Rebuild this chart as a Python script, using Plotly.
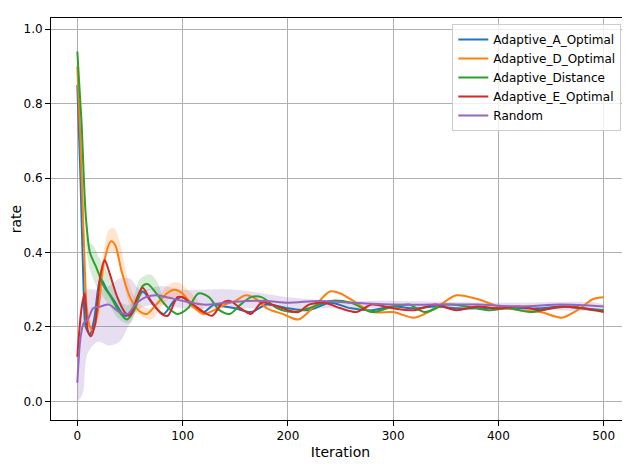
import plotly.graph_objects as go

a_x = [0,3,6,8,12,16,22,28,35,45,52,62,72,82,92,100,110,120,130,140,150,165,180,200,220,240,260,280,300,320,340,360,380,400,420,440,460,480,500]
a_y = [0.85,0.6,0.3,0.2,0.18,0.22,0.33,0.3,0.27,0.23,0.24,0.295,0.26,0.235,0.27,0.28,0.255,0.24,0.26,0.255,0.25,0.24,0.26,0.25,0.245,0.265,0.25,0.245,0.255,0.25,0.255,0.25,0.25,0.25,0.25,0.25,0.255,0.25,0.245]
d_x = [0,3,6,9,12,15,20,25,32,36,42,50,58,66,75,85,92,100,110,120,130,140,150,160,170,180,195,210,225,240,250,265,280,300,320,340,360,380,400,420,440,460,475,490,500]
d_y = [0.9,0.7,0.45,0.25,0.2,0.19,0.25,0.37,0.43,0.42,0.35,0.28,0.245,0.235,0.26,0.29,0.3,0.29,0.255,0.235,0.245,0.26,0.27,0.285,0.275,0.25,0.235,0.22,0.255,0.295,0.29,0.265,0.24,0.24,0.225,0.25,0.285,0.275,0.255,0.245,0.24,0.225,0.245,0.275,0.28]
g_x = [0,4,8,12,18,25,32,40,47,55,62,67,75,85,95,105,115,125,135,145,155,165,175,190,205,220,240,260,280,300,315,330,350,370,390,410,430,450,470,490,500]
g_y = [0.94,0.75,0.5,0.4,0.36,0.31,0.28,0.24,0.22,0.25,0.31,0.315,0.29,0.255,0.235,0.25,0.29,0.28,0.245,0.235,0.26,0.28,0.28,0.25,0.24,0.25,0.27,0.265,0.24,0.255,0.26,0.24,0.26,0.255,0.245,0.25,0.24,0.25,0.255,0.245,0.245]
e_x = [0,4,7,10,13,17,22,26,30,38,45,50,57,62,70,80,86,95,100,110,120,128,138,145,155,165,175,185,200,210,220,235,250,265,280,300,320,340,360,380,400,420,440,460,480,500]
e_y = [0.12,0.25,0.29,0.19,0.175,0.21,0.34,0.38,0.35,0.28,0.24,0.23,0.28,0.305,0.27,0.235,0.23,0.28,0.28,0.26,0.24,0.23,0.265,0.27,0.25,0.235,0.265,0.26,0.245,0.24,0.26,0.265,0.25,0.24,0.26,0.25,0.245,0.26,0.245,0.255,0.25,0.255,0.245,0.255,0.25,0.24]
r_x = [0,3,6,10,15,22,30,40,48,55,65,75,85,100,120,140,160,180,200,230,260,300,340,380,420,460,500]
r_y = [0.05,0.17,0.21,0.22,0.25,0.255,0.26,0.24,0.235,0.26,0.28,0.285,0.28,0.27,0.26,0.265,0.27,0.27,0.265,0.27,0.265,0.26,0.26,0.26,0.255,0.26,0.255]

r_band_x = [0,5,10,20,30,40,50,60,80,100,150,200,250,300,400,500]
r_band_lo = [0,0.02,0.13,0.16,0.15,0.16,0.21,0.25,0.26,0.25,0.25,0.25,0.25,0.25,0.25,0.25]
r_band_hi = [0.1,0.28,0.3,0.3,0.31,0.33,0.33,0.3,0.31,0.3,0.3,0.28,0.27,0.27,0.265,0.26]
d_band_x = [20,25,30,35,40,50,60,70,85,95,105,120]
d_band_lo = [0.2,0.34,0.40,0.40,0.37,0.26,0.23,0.22,0.27,0.28,0.26,0.23]
d_band_hi = [0.3,0.4,0.46,0.465,0.43,0.31,0.26,0.25,0.31,0.32,0.3,0.25]
g_band_x = [5,10,15,20,30,40,50,60,70,80]
g_band_lo = [0.6,0.38,0.33,0.3,0.26,0.22,0.21,0.28,0.3,0.27]
g_band_hi = [0.8,0.43,0.42,0.39,0.34,0.27,0.26,0.33,0.34,0.29]

fig = go.Figure()
def band(x, lo, hi, col):
    fig.add_trace(go.Scatter(x=x + x[::-1], y=hi + lo[::-1], fill='toself', fillcolor=col,
                             line=dict(width=0), line_shape='spline', showlegend=False, hoverinfo='skip'))
band(r_band_x, r_band_lo, r_band_hi, 'rgba(148,103,189,0.22)')
band(d_band_x, d_band_lo, d_band_hi, 'rgba(255,127,14,0.2)')
band(g_band_x, g_band_lo, g_band_hi, 'rgba(44,160,44,0.2)')

for name, x, y, c in [("Adaptive_A_Optimal", a_x, a_y, '#1f77b4'),
                      ("Adaptive_D_Optimal", d_x, d_y, '#ff7f0e'),
                      ("Adaptive_Distance", g_x, g_y, '#2ca02c'),
                      ("Adaptive_E_Optimal", e_x, e_y, '#d62728'),
                      ("Random", r_x, r_y, '#9467bd')]:
    fig.add_trace(go.Scatter(x=x, y=y, mode='lines', name=name, line=dict(color=c, width=2, shape='spline', smoothing=0.8)))

ax = dict(showgrid=True, gridcolor='#b0b0b0', showline=True, linecolor='black', mirror=True, automargin=False,
          ticks='outside', tickcolor='black', zeroline=False, tickfont=dict(size=12))
fig.update_layout(width=630, height=470, margin=dict(l=43, r=8, t=10, b=58),
                  plot_bgcolor='white', paper_bgcolor='white',
                  font=dict(family='DejaVu Sans', color='black', size=12),
                  xaxis=dict(ax, range=[-25, 525], tickvals=[0,100,200,300,400,500], title=dict(text='Iteration', standoff=4)),
                  yaxis=dict(ax, range=[-0.05, 1.03], tickvals=[0,0.2,0.4,0.6,0.8,1.0], tickformat='.1f', title=dict(text='rate', standoff=4)),
                  legend=dict(x=0.985, y=0.985, xanchor='right', yanchor='top', bordercolor='#cccccc', borderwidth=1,
                              bgcolor='rgba(255,255,255,0.8)', font=dict(size=12)))
fig.write_html("out.html")
